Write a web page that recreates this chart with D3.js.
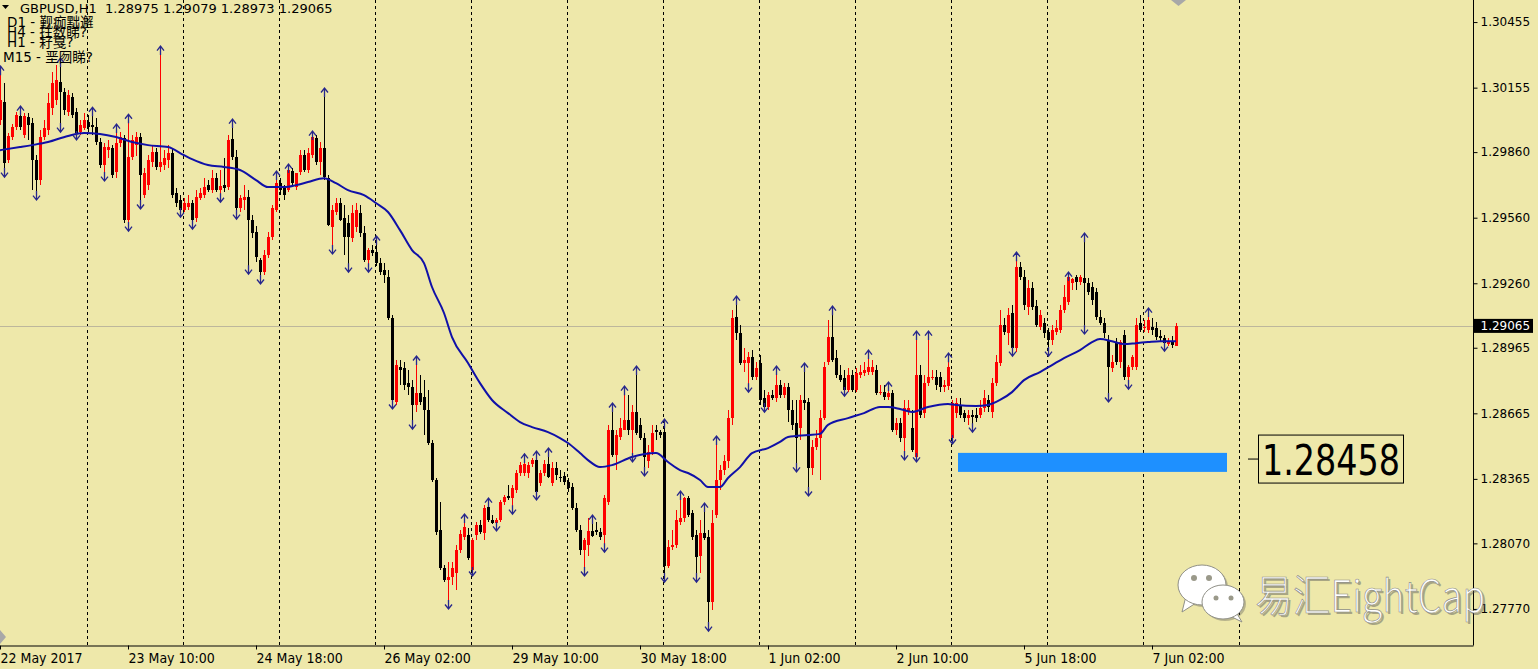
<!DOCTYPE html>
<html>
<head>
<meta charset="utf-8">
<script src="https://d3js.org/d3.v7.min.js"></script>
<style>
  body { margin:0; background:#eee8aa; overflow:hidden; }
</style>
</head>
<body>
<div id="viz"></div>
<script>
// GBPUSD H1, one value per bar, bar 0 = 22 May 02:00
var opens = [
 1.30007,1.30089,1.29824,1.29929,1.29975,1.30025,1.29938,1.30020,1.29993,1.29824,
 1.29732,1.29929,1.29961,1.30061,1.30098,1.30181,1.30135,1.30043,1.30112,1.30043,
 1.29952,1.29970,1.29998,1.29984,1.29975,1.29906,1.29801,1.29869,1.29878,1.29769,
 1.29901,1.29924,1.29549,1.29837,1.29892,1.29929,1.29663,1.29709,1.29815,1.29860,
 1.29792,1.29801,1.29824,1.29855,1.29672,1.29641,1.29595,1.29609,1.29627,1.29558,
 1.29649,1.29663,1.29709,1.29686,1.29741,1.29686,1.29709,1.29700,1.29920,1.29837,
 1.29604,1.29641,1.29654,1.29549,1.29494,1.29366,1.29311,1.29389,1.29471,1.29595,
 1.29718,1.29695,1.29686,1.29773,1.29700,1.29769,1.29846,1.29778,1.29846,1.29924,
 1.29815,1.29878,1.29741,1.29517,1.29586,1.29627,1.29558,1.29535,1.29466,1.29517,
 1.29581,1.29489,1.29366,1.29412,1.29403,1.29352,1.29320,1.29288,1.29101,1.28717,
 1.28877,1.28872,1.28803,1.28785,1.28703,1.28758,1.28740,1.28680,1.28529,1.28360,
 1.28131,1.27957,1.27902,1.27916,1.27934,1.28039,1.28099,1.28108,1.27948,1.28108,
 1.28154,1.28117,1.28236,1.28177,1.28163,1.28177,1.28259,1.28287,1.28278,1.28314,
 1.28392,1.28392,1.28392,1.28433,1.28451,1.28346,1.28392,1.28433,1.28346,1.28415,
 1.28374,1.28378,1.28351,1.28328,1.28232,1.28131,1.28039,1.28062,1.28126,1.28131,
 1.28122,1.28108,1.28259,1.28588,1.28474,1.28557,1.28589,1.28634,1.28588,1.28671,
 1.28611,1.28552,1.28446,1.28488,1.28588,1.28580,1.28580,1.27966,1.28053,1.28062,
 1.28168,1.28186,1.28278,1.28209,1.28108,1.28011,1.28117,1.28099,1.27802,1.28200,
 1.28360,1.28405,1.28446,1.28643,1.29106,1.29032,1.28895,1.28895,1.28922,1.28831,
 1.28895,1.28735,1.28694,1.28749,1.28735,1.28794,1.28749,1.28785,1.28680,1.28620,
 1.28598,1.28726,1.28717,1.28415,1.28511,1.28552,1.28643,1.28900,1.29014,1.28918,
 1.28840,1.28826,1.28771,1.28840,1.28771,1.28840,1.28849,1.28854,1.28854,1.28863,
 1.28758,1.28762,1.28740,1.28758,1.28588,1.28620,1.28552,1.28671,1.28597,1.28465,
 1.28840,1.28666,1.28803,1.28826,1.28831,1.28831,1.28785,1.28790,1.28552,1.28666,
 1.28703,1.28666,1.28643,1.28657,1.28657,1.28657,1.28689,1.28726,1.28671,1.28803,
 1.28895,1.29069,1.29032,1.29124,1.28963,1.29334,1.29288,1.29151,1.29238,1.29156,
 1.29060,1.29078,1.29037,1.29000,1.29037,1.29046,1.29137,1.29174,1.29261,1.29288,
 1.29266,1.29284,1.29261,1.29243,1.29220,1.29106,1.29078,1.29000,1.28872,1.28991,
 1.28900,1.29023,1.28831,1.28877,1.28877,1.29078,1.29055,1.29046,1.29060,1.29055,
 1.29018,1.29009,1.28982,1.28995,1.28975];
var highs = [
 1.30235,1.30176,1.29947,1.29989,1.30043,1.30052,1.30038,1.30038,1.30015,1.29846,
 1.29961,1.30007,1.30130,1.30226,1.30258,1.30272,1.30153,1.30144,1.30130,1.30061,
 1.30007,1.30038,1.30029,1.30047,1.30015,1.29924,1.29901,1.29915,1.29892,1.29970,
 1.29952,1.29938,1.30015,1.29938,1.29952,1.29947,1.29787,1.29846,1.29892,1.29878,
 1.30327,1.29869,1.29892,1.29878,1.29695,1.29663,1.29649,1.29663,1.29641,1.29686,
 1.29695,1.29741,1.29732,1.29778,1.29764,1.29778,1.29832,1.29938,1.29993,1.29869,
 1.29663,1.29709,1.29686,1.29572,1.29521,1.29375,1.29412,1.29494,1.29618,1.29755,
 1.29741,1.29709,1.29787,1.29787,1.29755,1.29869,1.29869,1.29878,1.29938,1.29938,
 1.29906,1.30135,1.29755,1.29618,1.29649,1.29649,1.29618,1.29572,1.29618,1.29627,
 1.29618,1.29521,1.29421,1.29435,1.29458,1.29375,1.29352,1.29320,1.29115,1.28909,
 1.28909,1.28900,1.28863,1.28817,1.28909,1.28840,1.28817,1.28771,1.28543,1.28369,
 1.28259,1.27971,1.27985,1.27985,1.28062,1.28131,1.28186,1.28140,1.28094,1.28168,
 1.28177,1.28245,1.28259,1.28200,1.28186,1.28268,1.28291,1.28337,1.28337,1.28405,
 1.28442,1.28461,1.28442,1.28461,1.28474,1.28405,1.28451,1.28488,1.28442,1.28442,
 1.28405,1.28396,1.28369,1.28346,1.28255,1.28154,1.28094,1.28186,1.28181,1.28168,
 1.28140,1.28291,1.28611,1.28694,1.28588,1.28643,1.28771,1.28749,1.28703,1.28863,
 1.28643,1.28575,1.28520,1.28611,1.28611,1.28588,1.28620,1.28085,1.28131,1.28222,
 1.28291,1.28282,1.28287,1.28222,1.28131,1.28177,1.28236,1.28131,1.28222,1.28543,
 1.28428,1.28474,1.28680,1.29137,1.29183,1.29069,1.28963,1.28945,1.28954,1.28900,
 1.28932,1.28771,1.28762,1.28771,1.28863,1.28817,1.28803,1.28803,1.28726,1.28726,
 1.28749,1.28877,1.28735,1.28543,1.28588,1.28680,1.28900,1.29092,1.29137,1.28954,
 1.28886,1.28863,1.28872,1.28863,1.28872,1.28886,1.28900,1.28936,1.28909,1.28886,
 1.28794,1.28794,1.28790,1.28771,1.28643,1.28643,1.28726,1.28726,1.28680,1.29023,
 1.28886,1.28840,1.29023,1.28863,1.28863,1.28854,1.28817,1.28922,1.28726,1.28735,
 1.28735,1.28680,1.28680,1.28680,1.28689,1.28726,1.28771,1.28749,1.28826,1.28932,
 1.29137,1.29101,1.29147,1.29160,1.29384,1.29357,1.29320,1.29275,1.29266,1.29183,
 1.29137,1.29101,1.29055,1.29069,1.29092,1.29160,1.29252,1.29293,1.29284,1.29297,
 1.29297,1.29471,1.29284,1.29266,1.29238,1.29137,1.29101,1.29023,1.28932,1.29009,
 1.29000,1.29046,1.28886,1.28932,1.29101,1.29115,1.29092,1.29128,1.29101,1.29083,
 1.29046,1.29023,1.29009,1.29018,1.29079];
var lows = [
 1.29984,1.29764,1.29810,1.29915,1.29961,1.29961,1.29924,1.29915,1.29686,1.29659,
 1.29709,1.29915,1.29938,1.30029,1.30075,1.29970,1.30029,1.30025,1.30015,1.29934,
 1.29938,1.29961,1.29952,1.29938,1.29892,1.29787,1.29746,1.29832,1.29741,1.29741,
 1.29883,1.29535,1.29517,1.29824,1.29842,1.29618,1.29649,1.29686,1.29792,1.29778,
 1.29769,1.29778,1.29787,1.29649,1.29609,1.29581,1.29586,1.29595,1.29526,1.29540,
 1.29641,1.29649,1.29677,1.29672,1.29677,1.29649,1.29677,1.29686,1.29824,1.29572,
 1.29586,1.29595,1.29320,1.29466,1.29357,1.29275,1.29297,1.29375,1.29458,1.29586,
 1.29663,1.29641,1.29677,1.29709,1.29686,1.29755,1.29769,1.29764,1.29832,1.29801,
 1.29755,1.29732,1.29521,1.29412,1.29572,1.29545,1.29389,1.29329,1.29449,1.29494,
 1.29471,1.29357,1.29329,1.29385,1.29339,1.29297,1.29261,1.29092,1.28703,1.28703,
 1.28794,1.28771,1.28749,1.28611,1.28671,1.28703,1.28566,1.28520,1.28351,1.28108,
 1.27948,1.27893,1.27788,1.27879,1.27856,1.28025,1.28085,1.27994,1.27939,1.28085,
 1.28113,1.28085,1.28168,1.28159,1.28145,1.28168,1.28245,1.28268,1.28222,1.28300,
 1.28378,1.28378,1.28369,1.28419,1.28287,1.28332,1.28378,1.28369,1.28332,1.28360,
 1.28351,1.28337,1.28305,1.28222,1.28122,1.28016,1.27939,1.28011,1.28099,1.28108,
 1.28085,1.28048,1.28245,1.28465,1.28405,1.28543,1.28588,1.28566,1.28461,1.28566,
 1.28543,1.28397,1.28415,1.28474,1.28543,1.28552,1.27911,1.27957,1.28039,1.28048,
 1.28154,1.28168,1.28191,1.28085,1.27911,1.27934,1.28085,1.27687,1.27765,1.28186,
 1.28314,1.28383,1.28415,1.28611,1.29000,1.28886,1.28854,1.28780,1.28817,1.28817,
 1.28703,1.28689,1.28680,1.28726,1.28717,1.28735,1.28735,1.28625,1.28588,1.28415,
 1.28543,1.28680,1.28305,1.28383,1.28497,1.28360,1.28634,1.28886,1.28900,1.28826,
 1.28808,1.28762,1.28762,1.28762,1.28762,1.28826,1.28835,1.28840,1.28840,1.28749,
 1.28749,1.28726,1.28726,1.28579,1.28566,1.28534,1.28470,1.28657,1.28488,1.28461,
 1.28643,1.28643,1.28790,1.28817,1.28771,1.28762,1.28762,1.28771,1.28543,1.28643,
 1.28643,1.28625,1.28611,1.28597,1.28625,1.28643,1.28671,1.28671,1.28643,1.28790,
 1.28881,1.29023,1.28977,1.28945,1.28945,1.29275,1.29137,1.29115,1.29137,1.29060,
 1.29046,1.29009,1.28945,1.28977,1.29023,1.29032,1.29124,1.29160,1.29229,1.29229,
 1.29252,1.29046,1.29206,1.29160,1.29092,1.29069,1.29009,1.28735,1.28854,1.28886,
 1.28872,1.28817,1.28794,1.28863,1.28863,1.29037,1.29037,1.29032,1.29023,1.29000,
 1.28991,1.28968,1.28973,1.28963,1.28973];
var closes = [
 1.30098,1.29810,1.29934,1.29975,1.30029,1.29975,1.30025,1.29984,1.29824,1.29732,
 1.29929,1.29970,1.30084,1.30176,1.30190,1.30135,1.30052,1.30121,1.30029,1.29947,
 1.29984,1.30007,1.29975,1.29975,1.29906,1.29801,1.29883,1.29883,1.29755,1.29901,
 1.29929,1.29549,1.29837,1.29915,1.29929,1.29755,1.29764,1.29824,1.29860,1.29792,
 1.29815,1.29832,1.29855,1.29663,1.29627,1.29595,1.29627,1.29627,1.29549,1.29654,
 1.29672,1.29700,1.29686,1.29741,1.29686,1.29704,1.29695,1.29915,1.29837,1.29604,
 1.29649,1.29654,1.29549,1.29489,1.29380,1.29311,1.29389,1.29471,1.29604,1.29718,
 1.29686,1.29663,1.29778,1.29718,1.29764,1.29846,1.29778,1.29855,1.29929,1.29815,
 1.29878,1.29746,1.29526,1.29595,1.29627,1.29549,1.29471,1.29471,1.29581,1.29595,
 1.29489,1.29366,1.29412,1.29398,1.29352,1.29311,1.29297,1.29101,1.28726,1.28886,
 1.28863,1.28794,1.28785,1.28703,1.28758,1.28717,1.28680,1.28529,1.28360,1.28122,
 1.27957,1.27902,1.27916,1.27957,1.28039,1.28113,1.28145,1.28003,1.28085,1.28154,
 1.28122,1.28232,1.28177,1.28163,1.28177,1.28259,1.28282,1.28278,1.28323,1.28392,
 1.28428,1.28433,1.28428,1.28451,1.28305,1.28392,1.28433,1.28374,1.28415,1.28383,
 1.28369,1.28351,1.28323,1.28232,1.28131,1.28039,1.28085,1.28126,1.28104,1.28122,
 1.28099,1.28278,1.28588,1.28474,1.28566,1.28598,1.28634,1.28588,1.28671,1.28575,
 1.28552,1.28465,1.28488,1.28575,1.28580,1.28566,1.27966,1.28053,1.28062,1.28177,
 1.28186,1.28278,1.28200,1.28099,1.28007,1.28117,1.28094,1.27802,1.28163,1.28360,
 1.28405,1.28446,1.28643,1.29101,1.29032,1.28895,1.28909,1.28922,1.28831,1.28872,
 1.28726,1.28694,1.28749,1.28735,1.28794,1.28749,1.28785,1.28680,1.28611,1.28552,
 1.28726,1.28712,1.28415,1.28511,1.28552,1.28643,1.28877,1.29014,1.28909,1.28840,
 1.28817,1.28771,1.28840,1.28771,1.28849,1.28854,1.28863,1.28877,1.28877,1.28758,
 1.28762,1.28740,1.28758,1.28588,1.28620,1.28552,1.28689,1.28689,1.28497,1.28840,
 1.28657,1.28803,1.28831,1.28831,1.28794,1.28785,1.28794,1.28877,1.28712,1.28712,
 1.28657,1.28643,1.28657,1.28648,1.28643,1.28689,1.28735,1.28694,1.28803,1.28900,
 1.29069,1.29037,1.29115,1.28963,1.29334,1.29288,1.29160,1.29238,1.29151,1.29069,
 1.29115,1.29032,1.29000,1.29046,1.29055,1.29137,1.29197,1.29288,1.29279,1.29266,
 1.29288,1.29261,1.29220,1.29183,1.29106,1.29078,1.29032,1.28877,1.28900,1.28900,
 1.28991,1.28831,1.28877,1.28922,1.29069,1.29046,1.29060,1.29092,1.29046,1.29014,
 1.29009,1.28986,1.28995,1.28977,1.29065];

// bars carrying a fractal arrow
var fractalUp = [0,5,15,23,29,32,40,58,69,72,78,81,94,104,116,122,131,134,137,148,153,156,159,166,
  170,176,179,184,194,201,208,217,222,229,232,237,254,267,271,287];
var fractalDown = [1,9,15,19,26,32,35,45,48,55,59,62,65,83,87,92,98,103,112,118,124,128,134,146,151,
  158,161,166,174,177,187,191,199,202,211,226,229,238,243,253,262,271,277,282,291];

// moving average, read at these bars
var maBars = [0,5,8,12,17,21,25,29,33,37,42,46,48,52,56,60,64,67,71,74,77,81,84,87,91,94,97,100,103,106,
  108,111,113,117,120,123,127,130,133,137,140,142,145,147,150,153,158,164,167,170,172,175,177,180,182,185,
  188,192,195,197,202,205,207,212,216,220,222,225,228,232,237,239,244,247,250,253,256,260,263,266,270,273,
  275,278,281,284,287,290,294];
var maValues = [1.29869,1.29883,1.29892,1.29906,1.29934,1.29947,1.29943,1.29929,1.29906,1.29892,
  1.29883,1.29846,1.29828,1.29801,1.29792,1.29778,1.29732,1.29700,1.29700,1.29709,
  1.29723,1.29741,1.29718,1.29686,1.29663,1.29627,1.29586,1.29503,1.29412,1.29352,
  1.29243,1.29124,1.29014,1.28895,1.28803,1.28726,1.28666,1.28625,1.28602,1.28579,
  1.28552,1.28529,1.28483,1.28451,1.28419,1.28428,1.28465,1.28483,1.28442,1.28405,
  1.28392,1.28360,1.28328,1.28328,1.28369,1.28419,1.28483,1.28506,1.28534,1.28557,
  1.28566,1.28571,1.28612,1.28643,1.28666,1.28694,1.28694,1.28685,1.28671,1.28694,
  1.28708,1.28703,1.28698,1.28703,1.28726,1.28762,1.28817,1.28854,1.28886,1.28918,
  1.28954,1.28991,1.29005,1.28995,1.28982,1.28986,1.28991,1.28995,1.28995];

var yTicks = [1.30455,1.30155,1.29860,1.29560,1.29260,1.28965,1.28665,1.28365,1.28070,1.27770];
var timeTickBars = [0,32,64,96,128,160,192,224,256,288];
var timeTickLabels = ["22 May 2017","23 May 10:00","24 May 18:00","26 May 02:00","29 May 10:00",
  "30 May 18:00","1 Jun 02:00","2 Jun 10:00","5 Jun 18:00","7 Jun 02:00"];
var dayBars = [22,46,70,94,118,142,166,190,214,238,262,286,310];

// rectangle and level label drawn on the chart
var zoneBars = [239.5, 306.75];
var zonePrices = [1.28484, 1.28397];
var levelPrice = 1.28458;
var levelBar = 314.5;

var headerLines = ["D1 - 觐痂黜邂", "H4 - 拄数睇?", "H1 - 耔戛?", "M15 - 垩囫睇?"];

var W = 1538, H = 669, plotR = 1473, plotB = 645;
var x = d3.scaleLinear().domain([0, 368.25]).range([0, plotR]);
var y = d3.scaleLinear().domain([1.27605, 1.30556]).range([plotB, 0]);

var svg = d3.select("#viz").append("svg").attr("width", W).attr("height", H);
svg.append("rect").attr("width", W).attr("height", H).attr("fill", "#eee8aa");

// day separators
svg.append("g").selectAll("line").data(dayBars).enter().append("line")
  .attr("x1", function(d){ return Math.round(x(d)) - 0.5; })
  .attr("x2", function(d){ return Math.round(x(d)) - 0.5; })
  .attr("y1", 0).attr("y2", plotB)
  .attr("stroke", "#000").attr("stroke-dasharray", "3,3");

// current price line
var last = closes[closes.length - 1];
svg.append("line").attr("x1", 0).attr("x2", plotR)
  .attr("y1", Math.round(y(last)) + 0.5).attr("y2", Math.round(y(last)) + 0.5)
  .attr("stroke", "#bdb79c");

// blue zone
svg.append("rect")
  .attr("x", x(zoneBars[0])).attr("width", x(zoneBars[1]) - x(zoneBars[0]))
  .attr("y", y(zonePrices[0])).attr("height", y(zonePrices[1]) - y(zonePrices[0]))
  .attr("fill", "#1e90ff");

// candles
var bars = d3.range(opens.length).map(function(i){
  return {i: i, o: opens[i], h: highs[i], l: lows[i], c: closes[i]};
});
var colour = function(d){ return d.c > d.o ? "#ff0000" : "#000000"; };
var cg = svg.append("g").attr("shape-rendering", "crispEdges");
cg.selectAll("line").data(bars).enter().append("line")
  .attr("x1", function(d){ return Math.round(x(d.i)) + 0.5; })
  .attr("x2", function(d){ return Math.round(x(d.i)) + 0.5; })
  .attr("y1", function(d){ return y(d.h); })
  .attr("y2", function(d){ return y(d.l); })
  .attr("stroke", colour);
cg.selectAll("rect").data(bars).enter().append("rect")
  .attr("x", function(d){ return Math.round(x(d.i)) - 1; })
  .attr("width", 3)
  .attr("y", function(d){ return y(Math.max(d.o, d.c)); })
  .attr("height", function(d){ return Math.max(1, Math.abs(y(d.o) - y(d.c))); })
  .attr("fill", colour);

// moving average
var ma = maBars.map(function(b, k){ return {b: b, v: maValues[k]}; });
svg.append("path").datum(ma)
  .attr("d", d3.line().x(function(d){ return x(d.b); }).y(function(d){ return y(d.v); }).curve(d3.curveMonotoneX))
  .attr("fill", "none").attr("stroke", "#1010a8").attr("stroke-width", 2);

// fractal arrows
var arrow = function(cx, t, dir){
  return "M" + cx + "," + (t + 9 * dir) + "V" + t +
    "M" + (cx - 3.5) + "," + (t + 4.5 * dir) + "L" + cx + "," + t + "L" + (cx + 3.5) + "," + (t + 4.5 * dir);
};
var fg = svg.append("g").attr("fill", "none").attr("stroke", "#26268c").attr("stroke-width", 1.3);
fg.selectAll("path.up").data(fractalUp).enter().append("path")
  .attr("d", function(i){ return arrow(Math.round(x(i)) + 0.5, y(highs[i]) - 4, 1); });
fg.selectAll("path.dn").data(fractalDown).enter().append("path")
  .attr("d", function(i){ return arrow(Math.round(x(i)) + 0.5, y(lows[i]) + 4, -1); });

// axes
var yAxis = d3.axisRight(y).tickValues(yTicks).tickFormat(d3.format(".5f"))
  .tickSize(4).tickSizeOuter(0).tickPadding(3);
var ya = svg.append("g").attr("transform", "translate(" + (plotR + 0.5) + ",0)").call(yAxis);
ya.attr("font-family", "DejaVu Sans").attr("font-size", 12);
ya.select(".domain").attr("d", "M0,0V" + (plotB + 0.5));

var xAxis = d3.axisBottom(x).tickValues(timeTickBars)
  .tickFormat(function(d, k){ return timeTickLabels[k]; })
  .tickSize(4).tickSizeOuter(0).tickPadding(3.5);
var xa = svg.append("g").attr("transform", "translate(0," + (plotB + 0.5) + ")").call(xAxis);
xa.attr("font-family", "DejaVu Sans Condensed").attr("font-size", 14);
xa.selectAll("text").attr("text-anchor", "start").attr("fill", "#000");

// price tag
svg.append("rect").attr("x", plotR + 1).attr("y", y(last) - 7).attr("width", 59).attr("height", 14).attr("fill", "#000");
svg.append("text").attr("x", plotR + 7.5).attr("y", y(last) + 4.5)
  .attr("font-family", "DejaVu Sans").attr("font-size", 12).attr("fill", "#fff")
  .text(d3.format(".5f")(last));

// level label
var ly = y(levelPrice);
svg.append("line").attr("x1", x(levelBar) - 10).attr("x2", x(levelBar)).attr("y1", ly + 0.5).attr("y2", ly + 0.5).attr("stroke", "#000");
svg.append("rect").attr("x", x(levelBar) + 0.5).attr("y", ly - 23.5).attr("width", 145).attr("height", 48)
  .attr("fill", "none").attr("stroke", "#000");
svg.append("text").attr("x", x(levelBar) + 4).attr("y", ly + 16.5)
  .attr("font-family", "DejaVu Sans Condensed").attr("font-size", 42)
  .attr("textLength", 138).attr("lengthAdjust", "spacingAndGlyphs")
  .text(d3.format(".5f")(levelPrice));

// header
var n = opens.length - 1;
svg.append("path").attr("d", "M2,5H9L5.5,9Z").attr("fill", "#000");
svg.append("text").attr("x", 20).attr("y", 13).attr("xml:space", "preserve")
  .attr("font-family", "DejaVu Sans").attr("font-size", 13).style("white-space", "pre")
  .text("GBPUSD,H1  " + [opens[n], highs[n], lows[n], closes[n]].map(d3.format(".5f")).join(" "));
svg.append("g").attr("font-family", "DejaVu Sans, Noto Sans CJK SC").attr("font-size", 13.5)
  .selectAll("text").data(headerLines).enter().append("text")
  .attr("x", function(d, k){ return k === 3 ? 3 : 7; })
  .attr("y", function(d, k){ return [27, 37, 47, 62][k]; })
  .text(function(d){ return d; });

// small chart markers
svg.append("path").attr("d", "M1171,0H1186L1178.5,6Z").attr("fill", "#a8a8a8");
svg.append("path").attr("d", "M0,630L6,637L0,644Z").attr("fill", "#a8a8a8");

// watermark
var wm = svg.append("g");
var bubble = function(g, cx, cy, rx, ry, tail){
  g.append("path").attr("d", tail).attr("fill", "#ffffff").attr("stroke", "#8f8f86").attr("stroke-width", 1);
  g.append("ellipse").attr("cx", cx).attr("cy", cy).attr("rx", rx).attr("ry", ry)
    .attr("fill", "#ffffff").attr("stroke", "#8f8f86").attr("stroke-width", 1);
};
var shadow = wm.append("g").attr("transform", "translate(2,2)").attr("opacity", 0.35);
shadow.append("ellipse").attr("cx", 1202).attr("cy", 585).attr("rx", 24).attr("ry", 20).attr("fill", "#555");
shadow.append("ellipse").attr("cx", 1223).attr("cy", 602).attr("rx", 21).attr("ry", 17).attr("fill", "#555");
bubble(wm, 1202, 585, 24, 20, "M1186,596L1182,612L1196,603Z");
wm.append("circle").attr("cx", 1194).attr("cy", 578).attr("r", 3).attr("fill", "#9a998a");
wm.append("circle").attr("cx", 1209).attr("cy", 578).attr("r", 3).attr("fill", "#9a998a");
bubble(wm, 1223, 602, 21, 17, "M1236,612L1242,622L1230,616Z");
wm.append("circle").attr("cx", 1216).attr("cy", 598).attr("r", 2.5).attr("fill", "#9a998a");
wm.append("circle").attr("cx", 1231).attr("cy", 598).attr("r", 2.5).attr("fill", "#9a998a");
wm.append("text").attr("x", 1257).attr("y", 614)
  .attr("font-family", "Noto Sans CJK SC").attr("font-size", 44).attr("font-weight", 300)
  .attr("textLength", 230).attr("lengthAdjust", "spacingAndGlyphs")
  .attr("fill", "#555").attr("opacity", 0.45).text("易汇EightCap");
wm.append("text").attr("x", 1255).attr("y", 612)
  .attr("font-family", "Noto Sans CJK SC").attr("font-size", 44).attr("font-weight", 300)
  .attr("textLength", 230).attr("lengthAdjust", "spacingAndGlyphs")
  .attr("fill", "#ffffff").attr("stroke", "#8f8f86").attr("stroke-width", 0.7).text("易汇EightCap");
</script>
</body>
</html>
